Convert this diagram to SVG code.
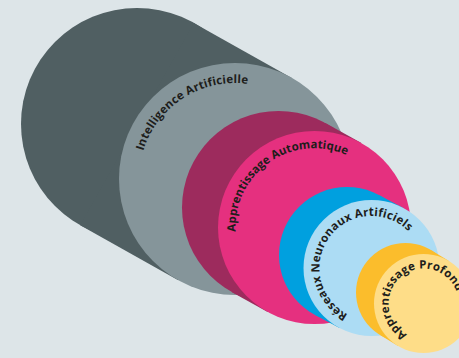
<svg xmlns="http://www.w3.org/2000/svg" width="459" height="358" viewBox="0 0 459 358">
  <style>
    .lbl { font-family: "Open Sans", "Liberation Sans", sans-serif; font-weight: 700; font-size: 11.5px; letter-spacing: 0.2px; fill: #1d1d1b; }
    .tight { letter-spacing: 0; }
  </style>
  <defs>
    <path id="arc-ia" d="M143.2,150.9 A96,96 0 0 1 328.5,157.4"/>
    <path id="arc-aa" d="M235.6,231.6 A79,79 0 0 1 391.5,209.7"/>
    <path id="arc-rna" d="M347.9,314.3 A52,52 0 1 1 423.4,265.3"/>
    <path id="arc-ap" d="M407.1,334.4 A35,35 0 1 1 458.2,308.4"/>
  </defs>
  <rect width="459" height="358" fill="#dde5e8"/>

  <!-- Intelligence Artificielle -->
  <g id="ia">
    <g fill="#505f62">
      <circle cx="137" cy="124" r="116"/>
      <polygon points="80.2,225.2 178.2,280.2 291.8,77.9 193.8,22.9"/>
    </g>
    <circle cx="235" cy="179" r="116" fill="#85959a"/>
    <text class="lbl"><textPath href="#arc-ia">Intelligence Artificielle</textPath></text>
  </g>

  <!-- Apprentissage Automatique -->
  <g id="aa">
    <g fill="#9d2b5d">
      <circle cx="278.5" cy="207.5" r="96.5"/>
      <polygon points="231.6,291.9 267.6,311.9 361.4,143.1 325.4,123.1"/>
    </g>
    <circle cx="314.5" cy="227.5" r="96.5" fill="#e5307f"/>
    <text class="lbl tight"><textPath href="#arc-aa">Apprentissage Automatique</textPath></text>
  </g>

  <!-- Réseaux Neuronaux Artificiels -->
  <g id="rna">
    <g fill="#00a0df">
      <circle cx="347" cy="255" r="68"/>
      <polygon points="315.1,315.1 339.6,328.1 403.4,207.9 378.9,194.9"/>
    </g>
    <circle cx="371.5" cy="268" r="68" fill="#acdcf4"/>
    <text class="lbl"><textPath href="#arc-rna">Réseaux Neuronaux Artificiels</textPath></text>
  </g>

  <!-- Apprentissage Profond -->
  <g id="ap">
    <g fill="#fbbd2c">
      <circle cx="405.5" cy="292.5" r="49.5"/>
      <polygon points="379.7,334.7 397.7,345.7 449.3,261.3 431.3,250.3"/>
    </g>
    <circle cx="423.5" cy="303.5" r="49.5" fill="#fedd88"/>
    <text class="lbl"><textPath href="#arc-ap">Apprentissage Profond</textPath></text>
  </g>
</svg>
